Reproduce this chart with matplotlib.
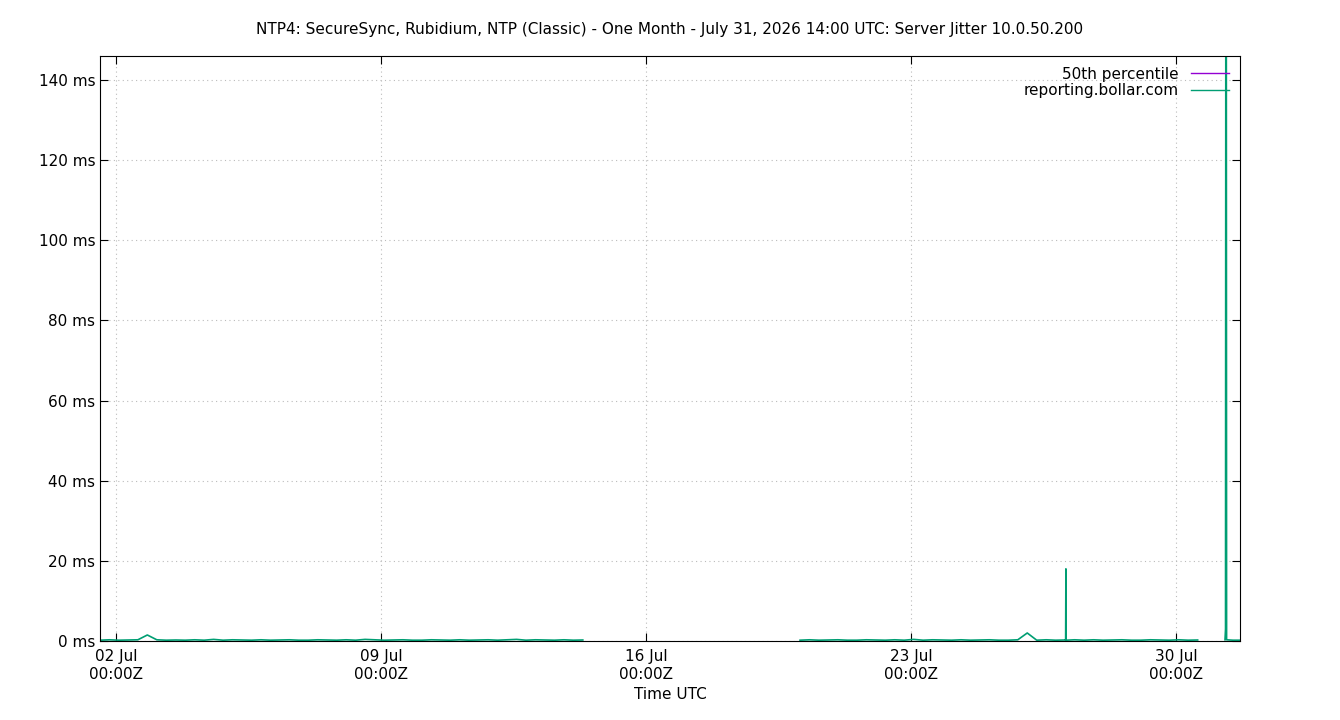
import matplotlib
matplotlib.use("Agg")
import matplotlib.pyplot as plt
import matplotlib.dates as mdates
import numpy as np
from datetime import datetime, timedelta

# Segment 1: Jul 1 14:00 -> Jul 14 12:30 ; Segment 2: Jul 20 01:40 -> Jul 30 16:20 ; Segment 3: Jul 31 07:00 -> end
seg1_start = datetime(2026, 7, 1, 14, 0)
seg1_vals = [0.2, 0.3, 0.2, 0.25, 0.3, 1.5, 0.3, 0.2, 0.25, 0.2, 0.3, 0.2, 0.4, 0.2, 0.3, 0.25,
             0.2, 0.3, 0.2, 0.25, 0.3, 0.2, 0.2, 0.3, 0.25, 0.2, 0.3, 0.2, 0.4, 0.3, 0.2, 0.25,
             0.3, 0.2, 0.2, 0.3, 0.25, 0.2, 0.3, 0.2, 0.25, 0.3, 0.2, 0.3, 0.4, 0.2, 0.3, 0.25,
             0.2, 0.3, 0.2, 0.25]
seg2_start = datetime(2026, 7, 20, 1, 40)
seg2_vals = [0.2, 0.3, 0.2, 0.25, 0.3, 0.2, 0.2, 0.3, 0.25, 0.2, 0.3, 0.2, 0.4, 0.2, 0.3, 0.25,
             0.2, 0.3, 0.2, 0.25, 0.3, 0.2, 0.2, 0.3, 2.0, 0.2, 0.3, 0.2, 0.25, 0.3, 0.2, 0.3,
             0.2, 0.25, 0.3, 0.2, 0.2, 0.3, 0.25, 0.2, 0.3, 0.2, 0.25]
spike1_time = datetime(2026, 7, 27, 2, 10)
spike1_val = 18.0
seg3_times = [datetime(2026, 7, 31, 7, 0), datetime(2026, 7, 31, 7, 20), datetime(2026, 7, 31, 7, 40),
              datetime(2026, 7, 31, 8, 0), datetime(2026, 7, 31, 12, 0), datetime(2026, 7, 31, 16, 30)]
seg3_vals = [0.3, 3.0, 300.0, 0.3, 0.2, 0.2]
step = timedelta(hours=6)

def seg(start, vals):
    return [start + i * step for i in range(len(vals))], list(vals)

t1, v1 = seg(seg1_start, seg1_vals)
t2, v2 = seg(seg2_start, seg2_vals)
# insert spike into segment 2
pairs = sorted(list(zip(t2, v2)) + [(spike1_time - timedelta(minutes=10), 0.2), (spike1_time, spike1_val),
                                    (spike1_time + timedelta(minutes=10), 0.2)])
t2 = [p[0] for p in pairs]; v2 = [p[1] for p in pairs]

fig = plt.figure(figsize=(13.4, 7.2), dpi=100)
ax = fig.add_axes([100/1340, 1-641/720, 1140/1340, 585/720])
green = "#009e73"
ax.plot([], [], color="#9400d3", lw=1, label="50th percentile")
for tt, vv in [(t1, v1), (t2, v2), (seg3_times, seg3_vals)]:
    ax.plot(tt, vv, color=green, lw=1.2)
ax.plot([], [], color=green, lw=1, label="reporting.bollar.com")

ax.set_xlim(datetime(2026, 7, 1, 14, 0), datetime(2026, 7, 31, 16, 30))
ax.set_ylim(0, 146)
ax.set_yticks(range(0, 141, 20))
ax.set_yticklabels([f"{v} ms" for v in range(0, 141, 20)])
ticks = [datetime(2026, 7, d) for d in (2, 9, 16, 23, 30)]
ax.set_xticks(ticks)
ax.set_xticklabels([t.strftime("%d %b\n00:00Z") for t in ticks])
ax.grid(True, linestyle=(0, (1, 3)), color="#bbbbbb", lw=0.8)
ax.tick_params(direction="in", labelsize=11, length=6, top=True, right=True)
ax.tick_params(axis="x", pad=6)
ax.set_xlabel("Time UTC", fontsize=11)
fig.suptitle("NTP4: SecureSync, Rubidium, NTP (Classic) - One Month - July 31, 2026 14:00 UTC: Server Jitter 10.0.50.200",
             fontsize=11, y=0.97)
leg = ax.legend(loc="upper right", frameon=False, markerfirst=False, fontsize=11,
                handlelength=2.5, borderaxespad=0.3, labelspacing=0.1, facecolor="white")
for t in leg.get_texts():
    t.set_ha("right")
fig.savefig("out.png")
